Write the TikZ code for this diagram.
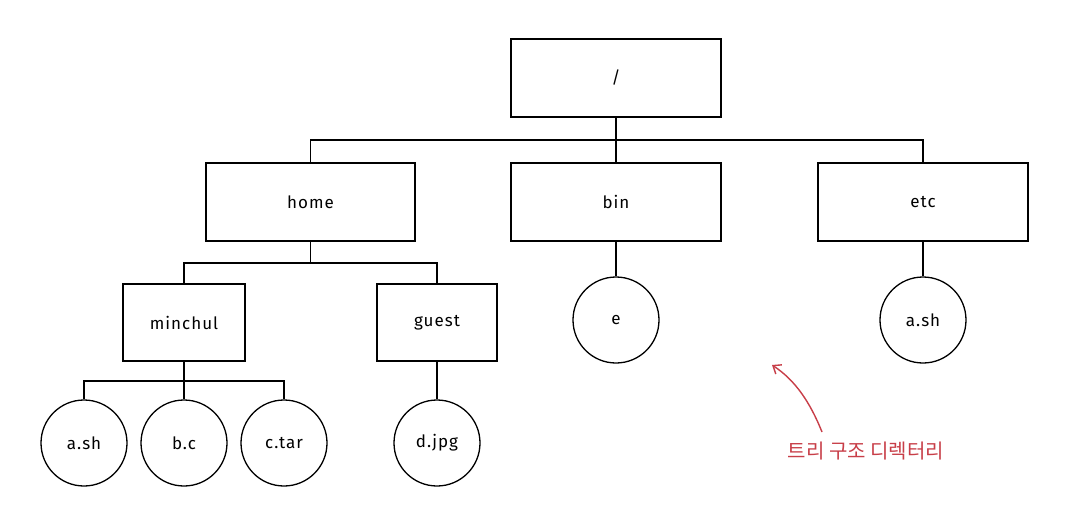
\documentclass[tikz,border=0pt]{standalone}
\usepackage{fontspec}
\setmainfont{Fira Sans}[LetterSpace=6]
\newfontfamily\krfont{Noto Sans CJK KR}
\usetikzlibrary{arrows.meta}
\definecolor{annot}{RGB}{200,62,72}
\begin{document}
\begin{tikzpicture}[x=1pt,y=-1pt,
  every node/.style={font=\fontsize{17}{20}\selectfont, text=black},
  dirbox/.style={draw=black, line width=1.3pt, rectangle, inner sep=0pt},
  filecirc/.style={draw=black, line width=1.3pt, circle, minimum size=86pt, inner sep=0pt},
  link/.style={draw=black, line width=1.3pt},
  annarrow/.style={draw=annot, line width=1.4pt, -{Straight Barb[length=7pt,width=11pt]}}]
\useasboundingbox[fill=white] (0,0) rectangle (1079,523);
% directories
\node[dirbox, minimum width=210pt, minimum height=78pt] (root) at (616,78) {/};
\node[dirbox, minimum width=209pt, minimum height=78pt] (home) at (310.5,202) {home};
\node[dirbox, minimum width=210pt, minimum height=78pt] (bin) at (616,202) {bin};
\node[dirbox, minimum width=210pt, minimum height=78pt] (etc) at (923,202) {etc};
\node[dirbox, minimum width=122pt, minimum height=77pt] (minchul) at (184,322.5) {minchul};
\node[dirbox, minimum width=120pt, minimum height=77pt] (guest) at (437,322.5) {guest};
% files
\node[filecirc] (e) at (616,320) {e};
\node[filecirc] (etcsh) at (923,320) {a.sh};
\node[filecirc] (ash) at (84,443) {a.sh};
\node[filecirc] (bc) at (184,443) {b.c};
\node[filecirc] (ctar) at (284,443) {c.tar};
\node[filecirc] (djpg) at (437,443) {d.jpg};
% connectors
\path[link] (root.south) -- (root.south |- 0,140) coordinate (rj);
\path[link] (home.north) |- (rj) -| (etc.north);
\path[link] (rj) -- (bin.north);
\path[link] (home.south) -- (home.south |- 0,263) coordinate (hj);
\path[link] (minchul.north) |- (hj) -| (guest.north);
\path[link] (bin.south) -- (e.north);
\path[link] (etc.south) -- (etcsh.north);
\path[link] (minchul.south) -- (minchul.south |- 0,381) coordinate (mj);
\path[link] (ash.north) |- (mj) -| (ctar.north);
\path[link] (mj) -- (bc.north);
\path[link] (guest.south) -- (djpg.north);
% annotation
\node[text=annot, font=\krfont\fontsize{20}{24}\selectfont] (note) at (866,451) {트리 구조 디렉터리};
\coordinate (tip) at (772,365);
\coordinate (tail) at (822,432);
\path[annarrow] (tail) .. controls (810,402) and (795,380) .. (tip);
\end{tikzpicture}
\end{document}
